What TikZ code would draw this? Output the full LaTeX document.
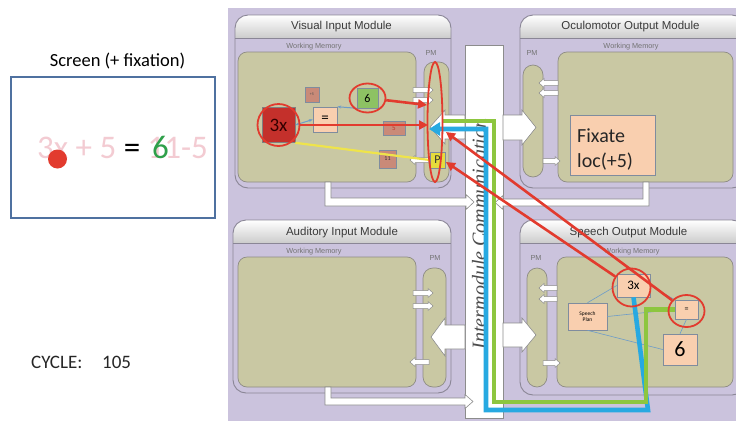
\documentclass[tikz,border=0pt]{standalone}
\usepackage{fontspec}
\setmainfont{Carlito}
\newfontfamily\arialf{Liberation Sans}
\newfontfamily\timesf{Liberation Serif}
\usetikzlibrary{arrows.meta,shapes.geometric}
\definecolor{lav}{HTML}{CBC3DD}
\definecolor{modborder}{HTML}{8A8696}
\definecolor{olive}{HTML}{C9C8A3}
\definecolor{olivebd}{HTML}{8E8C84}
\definecolor{peach}{HTML}{F9CFAF}
\definecolor{salmon}{HTML}{C98A78}
\definecolor{boxbd}{HTML}{7F8C9E}
\definecolor{redc}{HTML}{E23B2E}
\definecolor{bluec}{HTML}{27A9E1}
\definecolor{greenc}{HTML}{8DC63F}
\definecolor{greenbox}{HTML}{8DC263}
\definecolor{yellowc}{HTML}{EFE44A}
\definecolor{yellowbox}{HTML}{E6DC3C}
\definecolor{thinblue}{HTML}{6D9CC9}
\definecolor{screenbd}{HTML}{4F71A0}
\definecolor{pinktxt}{HTML}{F3CBD2}
\definecolor{green6}{HTML}{2FA04A}
\definecolor{darkred}{HTML}{C4302B}
\definecolor{titlegray}{HTML}{3A3A3A}
\newcommand\fsz[1]{\fontsize{#1}{#1}\selectfont}
\newcommand\modpanel[4]{%
  \path[modbox] (#1,#2) rectangle (#3,#4);
  \begin{scope}
    \clip[rounded corners=13pt] (#1,#2) rectangle (#3,#4);
    \shade[top color=white, bottom color=black!20] (#1,#2) rectangle (#3,#2+23);
  \end{scope}
  \draw[modborder, line width=0.9pt, rounded corners=13pt] (#1,#2) rectangle (#3,#4);
  \draw[modborder, line width=0.9pt] (#1,#2+23) -- (#3,#2+23);
}
\newcommand\sarR[3]{\path[sarr] (#1,#3-2.5) -- (#2-5,#3-2.5) -- (#2-5,#3-4.5) -- (#2,#3) -- (#2-5,#3+4.5) -- (#2-5,#3+2.5) -- (#1,#3+2.5) -- cycle;}
\newcommand\sarL[3]{\path[sarr] (#1,#3-2.5) -- (#2+5,#3-2.5) -- (#2+5,#3-4.5) -- (#2,#3) -- (#2+5,#3+4.5) -- (#2+5,#3+2.5) -- (#1,#3+2.5) -- cycle;}
\begin{document}
\begin{tikzpicture}[x=1pt,y=-1pt,
  modbox/.style={fill=lav},
  wmbox/.style={draw=olivebd, line width=0.7pt, fill=olive, rounded corners=9pt},
  pmbox/.style={draw=olivebd, line width=0.7pt, fill=olive, rounded corners=10pt},
  warr/.style={draw=black!45, line width=0.6pt, fill=white},
  sarr/.style={draw=black!45, line width=0.5pt, fill=white},
  modtitle/.style={font=\arialf\fsz{11.5}, text=titlegray, inner sep=0pt},
  smalltxt/.style={font=\arialf\fsz{7.3}, text=black!55, inner sep=0pt},
  cbox/.style={draw=boxbd, line width=0.6pt, inner sep=0pt, fill=peach},
  redring/.style={draw=redc, line width=1.8pt, inner sep=0pt},
  redarr/.style={draw=redc, line width=2.6pt, -{Triangle[length=9pt,width=9pt]}},
  thinl/.style={draw=thinblue, line width=0.6pt},
]
\useasboundingbox (0,0) rectangle (736,421);
\begin{scope}
\clip (0,0) rectangle (736,421);
\fill[white] (0,0) rectangle (736,421);
\fill[lav] (228,8) rectangle (736,421);

% ---------- left: screen ----------
\node[font=\fsz{18.5}, anchor=base, inner sep=0pt] (scrtitle) at (117.5,66.5) {Screen (+ fixation)};
\draw[screenbd, line width=1.5pt] (11,77) rectangle (215,218);
\node[font=\fsz{33}, anchor=base west, inner sep=0pt] (eq) at (37,158)
  {\textcolor{pinktxt}{3x + 5} = \textcolor{pinktxt}{11-5}};
\node[font=\fsz{33}, anchor=base west, inner sep=0pt, text=green6] (eqsix) at (152,158) {6};
\fill[redc] (57.5,159) circle [radius=9.5pt];
\node[font=\fsz{19}, anchor=base west, inner sep=0pt, text=black!85] (cyc) at (31,368) {CYCLE:};
\node[font=\fsz{19}, anchor=base west, inner sep=0pt, text=black!85] (cycn) at (102,368) {105};

% ---------- modules ----------
\modpanel{235}{15}{451}{188}
\modpanel{520}{15}{745}{188}
\modpanel{233}{220}{451}{393}
\modpanel{520}{220}{745}{395}

\node[modtitle, anchor=base] (tvis) at (341.5,29) {Visual Input Module};
\node[modtitle, anchor=base] (toc) at (630.5,29) {Oculomotor Output Module};
\node[modtitle, anchor=base] (taud) at (342,235) {Auditory Input Module};
\node[modtitle, anchor=base] (tsp) at (628.5,235) {Speech Output Module};

\path[wmbox] (238,52) rectangle (416,182);
\path[wmbox] (558,52) rectangle (733,182);
\path[wmbox] (238,257) rectangle (416,387);
\path[wmbox] (557,257) rectangle (733,387);

\path[pmbox] (424,62) rectangle (449,182);
\path[pmbox] (523,65) rectangle (543,177);
\path[pmbox] (423,268) rectangle (446,387);
\path[pmbox] (527,268) rectangle (547,387);

\node[smalltxt, anchor=base] (wmv) at (314,48) {Working Memory};
\node[smalltxt, anchor=base] (wmo) at (631,48) {Working Memory};
\node[smalltxt, anchor=base] (wma) at (314,253) {Working Memory};
\node[smalltxt, anchor=base] (wms) at (632,253) {Working Memory};
\node[smalltxt, anchor=base] (pmv) at (431,55) {PM};
\node[smalltxt, anchor=base] (pmo) at (532,55) {PM};
\node[smalltxt, anchor=base] (pma) at (435,260) {PM};
\node[smalltxt, anchor=base] (pms) at (536,260) {PM};

% ---------- intermodule column ----------
\path[draw=black!45, line width=0.6pt, fill=white] (465,45) rectangle (503,418);

% L-shaped output arrows
\path[warr] (325,182) -- (325,206) -- (466,206) -- (466,209.5) -- (474,202) -- (466,194.5) -- (466,198) -- (331,198) -- (331,182) -- cycle;
\path[warr] (325,387) -- (325,405) -- (465,405) -- (465,408.5) -- (473,401.5) -- (465,394.5) -- (465,398) -- (331,398) -- (331,387) -- cycle;
\path[warr] (649,182) -- (649,206) -- (503,206) -- (503,209.5) -- (495,202.5) -- (503,195.5) -- (503,199) -- (643,199) -- (643,182) -- cycle;

% big block arrows between column and PMs
\path[warr] (465,115) -- (445,115) -- (445,110) -- (430,127) -- (445,144) -- (445,139) -- (465,139) -- cycle;
\path[warr] (503,115) -- (522,115) -- (522,110) -- (536,127.5) -- (522,145) -- (522,140) -- (503,140) -- cycle;
\path[warr] (465,325) -- (445,325) -- (445,318) -- (431,337) -- (445,356) -- (445,349) -- (465,349) -- cycle;
\path[warr] (503,323) -- (522,323) -- (522,318) -- (536,335) -- (522,352) -- (522,347) -- (503,347) -- cycle;

% small WM<->PM arrows
\sarR{413}{433}{90}
\sarR{413}{433}{100}
\sarL{432}{410}{160}
\sarL{558}{539}{83}
\sarL{558}{539}{93}
\sarR{543}{560}{161}
\sarR{413}{433}{293}
\sarR{413}{433}{306}
\sarL{429}{410}{362}
\sarL{557}{539}{288}
\sarL{557}{539}{299}
\sarR{543}{560}{363}

% ---------- Intermodule text ----------
\node[rotate=90, font=\timesf\itshape\fsz{20}, text=black!70, inner sep=0pt] (imc) at (479,234) {Intermodule Communication};

% ---------- Visual WM contents ----------
\node[cbox, fill=salmon, minimum width=14pt, minimum height=15pt, font=\fsz{4}, text=black!70] (vp5) at (312,94.5) {+5};
\node[cbox, fill=darkred, draw=black!50, minimum width=33pt, minimum height=35pt, font=\fsz{19}, text=black!80!red] (v3x) at (278.5,125) {3x};
\node[cbox, minimum width=24pt, minimum height=25pt, font=\fsz{15}] (veq) at (325,119.5) {=};
\node[cbox, fill=greenbox, minimum width=21pt, minimum height=20pt, font=\fsz{12}] (v6) at (367.5,98) {6};
\node[cbox, fill=salmon, minimum width=22pt, minimum height=14pt, font=\fsz{7}, text=darkred] (v5) at (394,128) {5};
\node[cbox, fill=salmon, minimum width=17pt, minimum height=18pt, font=\fsz{6}, text=black!80] (v11) at (387.5,159) {11};
\node[cbox, fill=yellowbox, minimum width=15pt, minimum height=16pt, font=\fsz{12}, text=black!80] (vP) at (437.5,160) {P};
\draw[thinblue, line width=1pt, {Stealth[length=4pt]}-{Stealth[length=4pt]}] (v3x.east) -- (veq.west);
\draw[thinblue, line width=1pt, -{Stealth[length=4pt]}] (v6.south west) -- (veq.north east);

% ---------- Oculomotor WM contents ----------
\node[cbox, minimum width=85pt, minimum height=60pt] (fix) at (612.5,145) {};
\node[font=\fsz{20}, anchor=base west, inner sep=0pt, text=black!85] (fixa) at (577,142) {Fixate};
\node[font=\fsz{20}, anchor=base west, inner sep=0pt, text=black!85] (fixb) at (577,167) {loc(+5)};

% ---------- Speech WM contents ----------
\node[cbox, minimum width=33pt, minimum height=23pt, font=\fsz{13}] (s3x) at (633.5,285.5) {3x};
\node[cbox, minimum width=23pt, minimum height=19pt, font=\fsz{8}] (seq) at (686.5,309.5) {=};
\node[cbox, minimum width=39pt, minimum height=27pt, font=\fsz{5.5}, align=center] (ssp) at (587.5,316.5) {Speech\\Plan};
\node[cbox, minimum width=34pt, minimum height=31pt, font=\fsz{22}] (s6) at (680,349.5) {6};
\draw[thinl] (ssp.north) -- (s3x.west);
\draw[thinl] (ssp.east) -- (seq.west);
\draw[thinl] (ssp.south) -- (s6.west);
\draw[thinl] (s3x.east) -- (seq.north west);
\draw[thinl] (seq.south) -- (s6.north);

% ---------- colored paths ----------
\coordinate (btip) at (429,129);
\coordinate (gend) at (443,121);
\draw[bluec, line width=4.6pt, -{Triangle[length=11pt,width=13pt]}] (s3x.south) -- (648,410) -- (486,410) -- (486,129) -- (btip);
\draw[greenc, line width=4.6pt] (seq.west) -- (646,309.5) -- (646,402) -- (494,402) -- (494,121) -- (gend);
\draw[yellowc, line width=2.2pt] (v3x.south east) -- (vP.west);

% ---------- red rings and arrows ----------
\node[redring, circle, minimum size=42pt] (rv3x) at (v3x) {};
\node[redring, ellipse, minimum width=36pt, minimum height=29pt] (rv6) at (v6) {};
\node[redring, ellipse, minimum width=15pt, minimum height=120pt] (rpm) at (435,122) {};
\node[redring, circle, minimum size=38pt] (rs3x) at (631.5,287.5) {};
\node[redring, ellipse, minimum width=36pt, minimum height=32pt] (rseq) at (686.5,311) {};
\coordinate (pmA) at (427,105);
\coordinate (pmB) at (428,125);
\coordinate (pmC) at (446,132);
\coordinate (pmD) at (446,162);
\draw[redarr] (rv6) -- (pmA);
\draw[redarr] (rv3x.east) -- (pmB);
\draw[redarr] (rseq) -- (pmC);
\draw[redarr] (rs3x) -- (pmD);
\end{scope}
\end{tikzpicture}
\end{document}
